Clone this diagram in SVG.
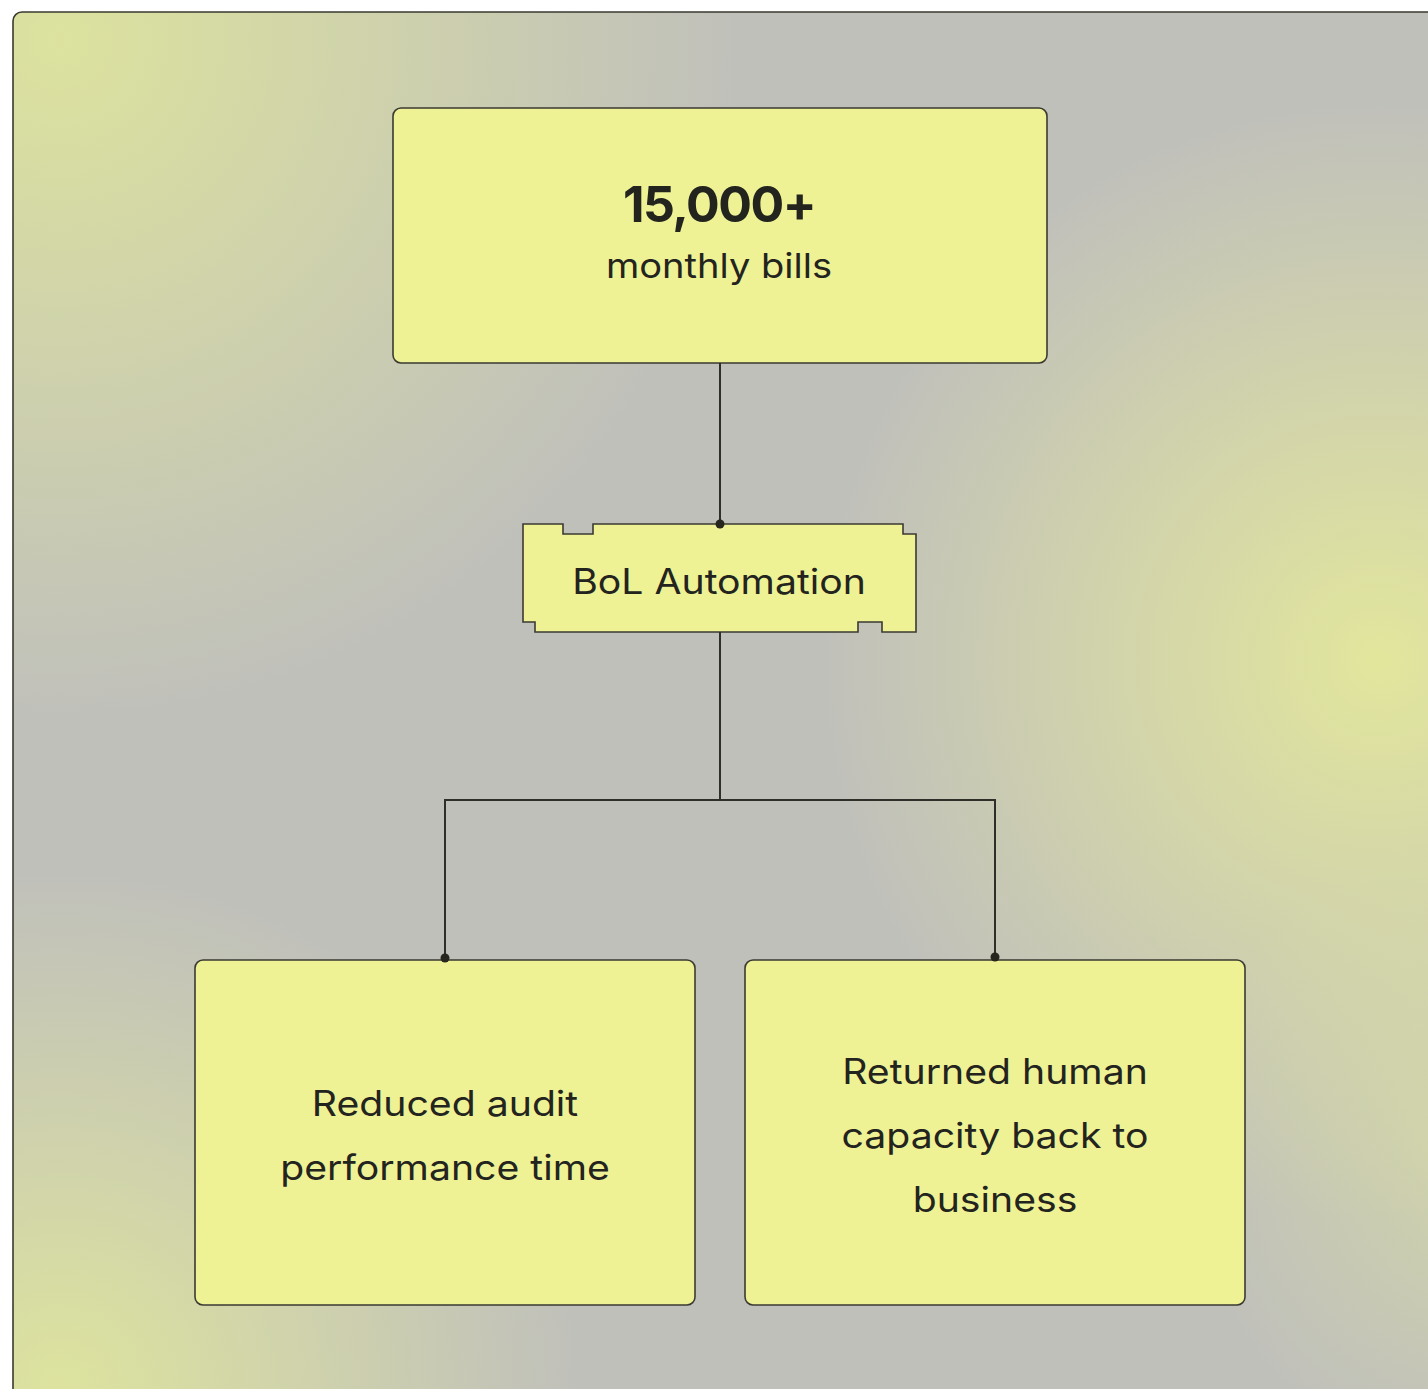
<svg xmlns="http://www.w3.org/2000/svg" width="1428" height="1389" viewBox="0 0 1428 1389">
  <defs>
    <radialGradient id="gTL" cx="60" cy="40" r="680" gradientUnits="userSpaceOnUse">
      <stop offset="0" stop-color="#dce29e" stop-opacity="1"/>
      <stop offset="0.5" stop-color="#dce29e" stop-opacity="0.5"/>
      <stop offset="1" stop-color="#dce29e" stop-opacity="0"/>
    </radialGradient>
    <radialGradient id="gR" cx="1380" cy="660" r="560" gradientUnits="userSpaceOnUse">
      <stop offset="0" stop-color="#e2e69c" stop-opacity="1"/>
      <stop offset="0.5" stop-color="#e2e69c" stop-opacity="0.5"/>
      <stop offset="1" stop-color="#e2e69c" stop-opacity="0"/>
    </radialGradient>
    <radialGradient id="gBL" cx="60" cy="1389" r="520" gradientUnits="userSpaceOnUse">
      <stop offset="0" stop-color="#dde39e" stop-opacity="1"/>
      <stop offset="0.5" stop-color="#dde39e" stop-opacity="0.5"/>
      <stop offset="1" stop-color="#dde39e" stop-opacity="0"/>
    </radialGradient>
    <radialGradient id="gBR" cx="1500" cy="1150" r="320" gradientUnits="userSpaceOnUse">
      <stop offset="0" stop-color="#dde39e" stop-opacity="0.6"/>
      <stop offset="1" stop-color="#dde39e" stop-opacity="0"/>
    </radialGradient>
    <style>
      .node { fill: #eef294; stroke: #3a3a32; stroke-width: 1.6; }
      .wire { fill: none; stroke: #2f2f2a; stroke-width: 2; }
      .dot { fill: #26261f; }
      .t { font-family: Inter, "Noto Sans", sans-serif; fill: #24241f; text-anchor: middle; }
      .big { font-size: 50px; font-weight: 700; letter-spacing: -1.5px; }
      .lbl { font-size: 35px; font-weight: 400; }
      .sub { font-size: 34px; font-weight: 400; }
    </style>
  </defs>
  <rect width="1428" height="1389" fill="#ffffff"/>
  <g id="frame">
    <rect x="13" y="12" width="1440" height="1400" rx="9" fill="#c0c0bb"/>
    <rect x="13" y="12" width="1440" height="1400" rx="9" fill="url(#gTL)"/>
    <rect x="13" y="12" width="1440" height="1400" rx="9" fill="url(#gR)"/>
    <rect x="13" y="12" width="1440" height="1400" rx="9" fill="url(#gBL)"/>
    <rect x="13" y="12" width="1440" height="1400" rx="9" fill="url(#gBR)"/>
    <rect x="13" y="12" width="1440" height="1400" rx="9" fill="none" stroke="#3a3a30" stroke-width="1.6"/>
  </g>
  <g id="node-bills">
    <rect class="node" x="393" y="108" width="654" height="255" rx="8"/>
    <text class="t big" x="719" y="222">15,000+</text>
    <text class="t sub" transform="translate(719 0) scale(1.12 1)" x="0" y="278">monthly bills</text>
  </g>
  <g id="node-bol">
    <path class="node" d="M523 524 H563 V534 H593 V524 H903 V534 H916 V632 H882 V622 H858 V632 H535 V622 H523 Z"/>
    <text class="t lbl" transform="translate(719 0) scale(1.12 1)" x="0" y="594">BoL Automation</text>
  </g>
  <g id="node-audit">
    <rect class="node" x="195" y="960" width="500" height="345" rx="8"/>
    <text class="t lbl" transform="translate(445 0) scale(1.12 1)" x="0" y="1116">Reduced audit</text>
    <text class="t lbl" transform="translate(445 0) scale(1.12 1)" x="0" y="1180">performance time</text>
  </g>
  <g id="node-capacity">
    <rect class="node" x="745" y="960" width="500" height="345" rx="8"/>
    <text class="t lbl" transform="translate(995 0) scale(1.12 1)" x="0" y="1084">Returned human</text>
    <text class="t lbl" transform="translate(995 0) scale(1.12 1)" x="0" y="1148">capacity back to</text>
    <text class="t lbl" transform="translate(995 0) scale(1.12 1)" x="0" y="1212">business</text>
  </g>
  <g id="connectors">
    <line class="wire" x1="720" y1="363" x2="720" y2="524"/>
    <path class="wire" d="M720 632 V800 M445 958 V800 H995 V957"/>
    <circle class="dot" cx="720" cy="524" r="4.5"/>
    <circle class="dot" cx="445" cy="958" r="4.5"/>
    <circle class="dot" cx="995" cy="957" r="4.5"/>
  </g>
</svg>
